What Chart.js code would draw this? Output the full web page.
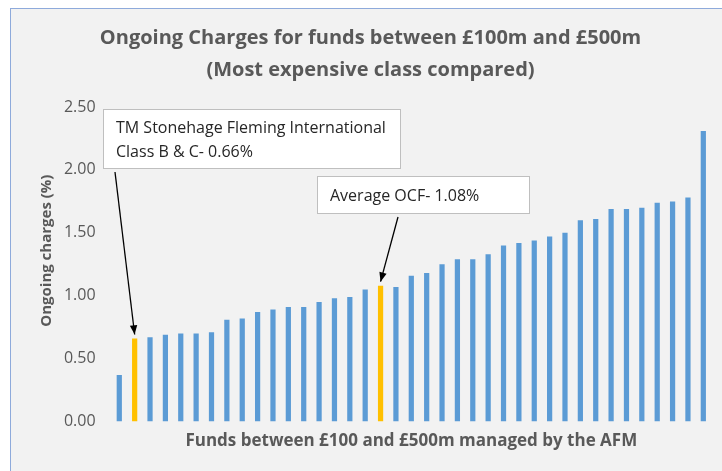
<!DOCTYPE html>
<html lang="en">
<head>
<meta charset="utf-8">
<title>Ongoing Charges for funds between £100m and £500m</title>
<script src="https://cdn.jsdelivr.net/npm/chart.js"></script>
<style>
  body{margin:0;background:#fff;overflow:hidden}
  #frame{position:absolute;left:10px;top:8px;width:730px;height:480px;background:#f2f2f2;border:1px solid #8eaadb}
  #chart{position:absolute;left:0;top:0}
</style>
</head>
<body>
<div id="frame"></div>
<canvas id="chart" width="722" height="471"></canvas>
<script>
// ongoing charges (%) of each fund, sorted, most expensive class
const funds = Array.from({length:39},(_,i)=>'Fund '+(i+1));
const charges = [0.37,0.66,0.67,0.69,0.70,0.70,0.71,0.81,0.82,0.87,0.89,0.91,0.91,0.95,0.98,0.99,1.05,1.08,1.07,
                 1.16,1.18,1.25,1.29,1.29,1.33,1.40,1.42,1.44,1.47,1.50,1.60,1.61,1.69,1.69,1.70,1.74,1.75,1.78,2.31];
const highlighted = [1,17];   // TM Stonehage Fleming, average OCF
const yTicks = [0,0.5,1,1.5,2,2.5];

const FONT = '"Open Sans", sans-serif';
const GREY = '#595959';

const notes = [
  {idx:1,  lines:['TM Stonehage Fleming International','Class B & C- 0.66%'], box:[103,109,297,59], from:[115,172]},
  {idx:17, lines:['Average OCF- 1.08%'], box:[317,176,212,37], from:[398,217]}
];

const notesPlugin = {
  id:'notes',
  afterDraw(chart){
    const {ctx,scales:{x,y}} = chart;
    ctx.save();
    notes.forEach(n=>{
      const [bx,by,bw,bh] = n.box;
      ctx.fillStyle='#fff';
      ctx.strokeStyle='#bfbfbf';
      ctx.lineWidth=1;
      ctx.fillRect(bx,by,bw,bh);
      ctx.strokeRect(bx+0.5,by+0.5,bw,bh);
      ctx.fillStyle='#262626';
      ctx.font='16px '+FONT;
      ctx.textBaseline='middle';
      const lh = 24;
      const start = by + bh/2 + 1.5 - (n.lines.length-1)*lh/2;
      n.lines.forEach((t,i)=>ctx.fillText(t,bx+13,start+i*lh));
      // arrow to bar top
      const tx = x.getPixelForValue(n.idx), ty = y.getPixelForValue(charges[n.idx]) - 4;
      const [fx,fy] = n.from;
      ctx.strokeStyle='#000';
      ctx.fillStyle='#000';
      ctx.lineWidth=1.3;
      ctx.beginPath();ctx.moveTo(fx,fy);ctx.lineTo(tx,ty);ctx.stroke();
      const a = Math.atan2(ty-fy,tx-fx), L=10, W=0.38;
      ctx.beginPath();
      ctx.moveTo(tx,ty);
      ctx.lineTo(tx-L*Math.cos(a-W),ty-L*Math.sin(a-W));
      ctx.lineTo(tx-L*Math.cos(a+W),ty-L*Math.sin(a+W));
      ctx.closePath();ctx.fill();
    });
    ctx.restore();
  }
};

new Chart(document.getElementById('chart'),{
  type:'bar',
  data:{
    labels:funds,
    datasets:[{
      data:charges,
      backgroundColor:charges.map((v,i)=>highlighted.includes(i)?'#ffc000':'#5b9bd5'),
      barPercentage:0.34,
      categoryPercentage:1
    }]
  },
  options:{
    responsive:false,
    animation:false,
    layout:{padding:{left:30,right:11,top:0,bottom:0}},
    plugins:{
      legend:{display:false},
      tooltip:{enabled:false},
      title:{
        display:true,
        text:['Ongoing Charges for funds between £100m and £500m','(Most expensive class compared)'],
        color:GREY,
        font:{family:FONT,size:20,weight:'bold',lineHeight:1.6},
        padding:{top:22,bottom:21}
      }
    },
    scales:{
      x:{
        grid:{display:false},
        border:{display:false},
        ticks:{display:false},
        title:{display:true,text:'Funds between £100 and £500m managed by the AFM',color:GREY,
               font:{family:FONT,size:17,weight:'bold',lineHeight:1.2},padding:{top:1,bottom:20}}
      },
      y:{
        min:0,max:2.5,
        afterBuildTicks(s){s.ticks = yTicks.map(v=>({value:v}));},
        afterFit(s){s.width = 81.6;},
        grid:{display:false},
        border:{display:false},
        ticks:{color:GREY,font:{family:FONT,size:16},padding:8,callback:v=>v.toFixed(2)},
        title:{display:true,text:'       Ongoing charges (%)',color:GREY,
               font:{family:FONT,size:15,weight:'bold',lineHeight:1.2},padding:{top:8}}
      }
    }
  },
  plugins:[notesPlugin]
});
</script>
</body>
</html>
